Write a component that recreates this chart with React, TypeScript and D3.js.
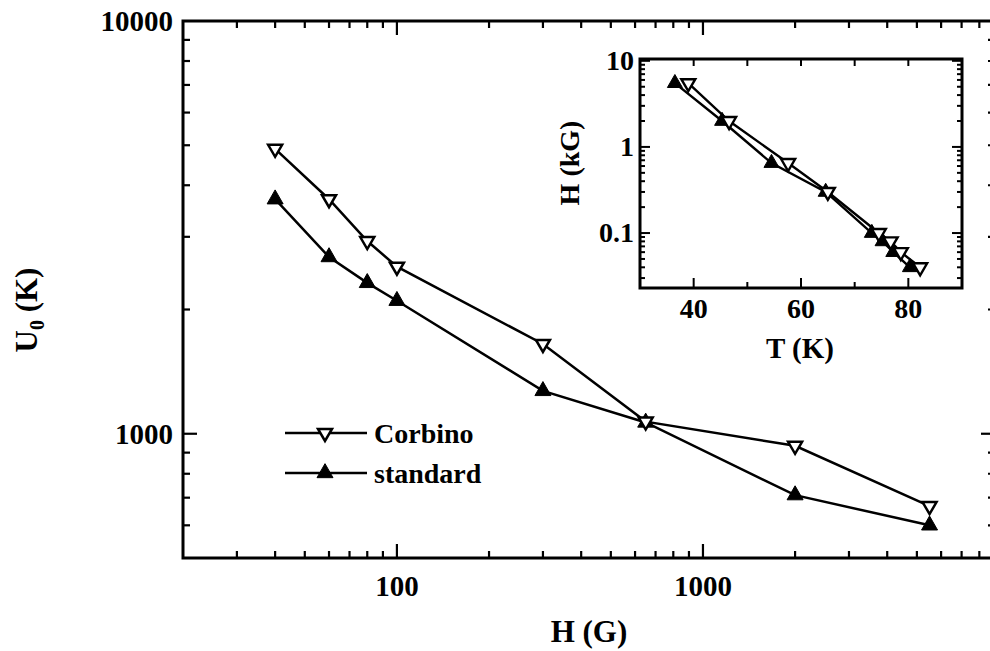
import React from 'react';
import * as d3 from 'd3';

// Activation energy U0 versus field H, for two contact geometries
const fieldG = [40, 60, 80, 100, 300, 650, 2000, 5500];
const corbinoU0 = [4900, 3700, 2930, 2540, 1650, 1070, 935, 668];
const standardU0 = [3700, 2680, 2320, 2100, 1270, 1065, 710, 600];

// Inset: field (kG) against the temperature T (K) of each point, high field first
const insetFieldKG = [5.5, 2, 0.65, 0.3, 0.1, 0.08, 0.06, 0.04];
const corbinoT = [39, 46.6, 57.6, 65, 74.5, 76.7, 78.6, 82.2];
const standardT = [36.5, 45.3, 54.5, 64.6, 73.2, 75.2, 77.2, 80.3];

const mainXTickLabels = [100, 1000];
const mainYTickLabels = [1000, 10000];
const insetXTickLabels = [40, 60, 80];
const insetYTickLabels = [0.1, 1, 10];

const seriesNames = ['Corbino', 'standard'];

const FONT = "'Liberation Serif', 'Times New Roman', serif";

const downTri = (cx: number, cy: number, w: number, h: number) =>
  `M${cx - w / 2},${cy - h / 3}L${cx + w / 2},${cy - h / 3}L${cx},${cy + (2 * h) / 3}Z`;
const upTri = (cx: number, cy: number, w: number, h: number) =>
  `M${cx - w / 2},${cy + h / 3}L${cx + w / 2},${cy + h / 3}L${cx},${cy - (2 * h) / 3}Z`;

const isDecade = (v: number) => Math.abs(Math.log10(v) - Math.round(Math.log10(v))) < 1e-6;

export default function App() {
  // main panel
  const x = d3.scaleLog().domain([20, 9000]).range([183, 995]);
  const y = d3.scaleLog().domain([500, 10000]).range([558, 21]);
  const [x0, x1] = x.range();
  const [y0, y1] = y.range();

  const mainLine = d3
    .line<[number, number]>()
    .x((d) => x(d[0]))
    .y((d) => y(d[1]));
  const corbinoPts: [number, number][] = fieldG.map((h, i) => [h, corbinoU0[i]]);
  const standardPts: [number, number][] = fieldG.map((h, i) => [h, standardU0[i]]);

  const xTicks = x.ticks().filter((v) => x(v) > x0 + 1 && x(v) < x1 - 1);
  const yTicks = y.ticks().filter((v) => y(v) < y0 - 1 && y(v) > y1 + 1);

  // inset panel
  const ix = d3.scaleLinear().domain([30, 90]).range([640, 962]);
  const iy = d3.scaleLog().domain([0.023, 10.5]).range([288, 59]);
  const [ix0, ix1] = ix.range();
  const [iy0, iy1] = iy.range();
  const insetLine = d3
    .line<[number, number]>()
    .x((d) => ix(d[0]))
    .y((d) => iy(d[1]));
  const insetCorbino: [number, number][] = corbinoT.map((t, i) => [t, insetFieldKG[i]]);
  const insetStandard: [number, number][] = standardT.map((t, i) => [t, insetFieldKG[i]]);
  const ixTicks = d3.range(40, 90, 10);
  const iyTicks = iy.ticks().filter((v) => iy(v) < iy0 - 1 && iy(v) > iy1 + 1);

  return (
    <svg
      width={990}
      height={651}
      style={{ position: 'absolute', left: 0, top: 0, background: '#fff' }}
      fontFamily={FONT}
      fontWeight="bold"
    >
      <rect x={0} y={0} width={990} height={651} fill="#fff" />

      {/* main axes ticks */}
      <g stroke="#000" strokeWidth={2.2}>
        {xTicks.map((v) => {
          const len = isDecade(v) ? 14 : 7;
          return (
            <g key={`xt${v}`}>
              <line x1={x(v)} x2={x(v)} y1={y0} y2={y0 - len} />
              <line x1={x(v)} x2={x(v)} y1={y1} y2={y1 + len} />
            </g>
          );
        })}
        {yTicks.map((v) => {
          const len = isDecade(v) ? 14 : 7;
          return (
            <g key={`yt${v}`}>
              <line x1={x0} x2={x0 + len} y1={y(v)} y2={y(v)} />
              <line x1={x1} x2={x1 - len} y1={y(v)} y2={y(v)} />
            </g>
          );
        })}
      </g>
      <rect x={x0} y={y1} width={x1 - x0} height={y0 - y1} fill="none" stroke="#000" strokeWidth={3} />

      {/* main tick labels */}
      <g fontSize={29} fill="#000">
        {mainXTickLabels.map((v) => (
          <text key={`xl${v}`} x={x(v)} y={y0 + 38} textAnchor="middle">
            {v}
          </text>
        ))}
        {mainYTickLabels.map((v) => (
          <text key={`yl${v}`} x={x0 - 10} y={y(v) + 10} textAnchor="end">
            {v}
          </text>
        ))}
      </g>

      {/* axis titles */}
      <text x={589} y={642} fontSize={31} textAnchor="middle">
        H (G)
      </text>
      <text transform="translate(37,310) rotate(-90)" fontSize={31} textAnchor="middle">
        U<tspan fontSize={20} dy={7}>0</tspan>
        <tspan dy={-7}> (K)</tspan>
      </text>

      {/* data */}
      <path d={mainLine(corbinoPts) || ''} fill="none" stroke="#000" strokeWidth={2.5} />
      <path d={mainLine(standardPts) || ''} fill="none" stroke="#000" strokeWidth={2.5} />
      {standardPts.map((d, i) => (
        <path key={`sp${i}`} d={upTri(x(d[0]), y(d[1]), 16, 14)} fill="#000" stroke="#000" strokeWidth={1} />
      ))}
      {corbinoPts.map((d, i) => (
        <path key={`cp${i}`} d={downTri(x(d[0]), y(d[1]), 14, 12)} fill="#fff" stroke="#000" strokeWidth={2.5} />
      ))}

      {/* legend */}
      <g>
        {seriesNames.map((name, i) => {
          const ly = 433 + i * 40;
          return (
            <g key={name}>
              <line x1={285} x2={367} y1={ly} y2={ly} stroke="#000" strokeWidth={2.5} />
              {i === 0 ? (
                <path d={downTri(325, ly, 14, 12)} fill="#fff" stroke="#000" strokeWidth={2.5} />
              ) : (
                <path d={upTri(325, ly, 16, 14)} fill="#000" stroke="#000" strokeWidth={1} />
              )}
              <text x={374} y={ly + 10} fontSize={28} fill="#000">
                {name}
              </text>
            </g>
          );
        })}
      </g>

      {/* inset */}
      <rect x={ix0} y={iy1} width={ix1 - ix0} height={iy0 - iy1} fill="#fff" />
      <g stroke="#000" strokeWidth={2}>
        {ixTicks.map((v) => {
          const len = v % 20 === 0 ? 10 : 6;
          return (
            <g key={`ixt${v}`}>
              <line x1={ix(v)} x2={ix(v)} y1={iy0} y2={iy0 - len} />
              <line x1={ix(v)} x2={ix(v)} y1={iy1} y2={iy1 + 7} />
            </g>
          );
        })}
        {iyTicks.map((v) => {
          const len = isDecade(v) ? 10 : 5;
          return (
            <g key={`iyt${v}`}>
              <line x1={ix0} x2={ix0 + len} y1={iy(v)} y2={iy(v)} />
              <line x1={ix1} x2={ix1 - len} y1={iy(v)} y2={iy(v)} />
            </g>
          );
        })}
      </g>
      <rect x={ix0} y={iy1} width={ix1 - ix0} height={iy0 - iy1} fill="none" stroke="#000" strokeWidth={3} />
      <path d={insetLine(insetStandard) || ''} fill="none" stroke="#000" strokeWidth={2.4} />
      <path d={insetLine(insetCorbino) || ''} fill="none" stroke="#000" strokeWidth={2.4} />
      {insetStandard.map((d, i) => (
        <path key={`isp${i}`} d={upTri(ix(d[0]), iy(d[1]), 15, 13)} fill="#000" stroke="#000" strokeWidth={1} />
      ))}
      {insetCorbino.map((d, i) => (
        <path key={`icp${i}`} d={downTri(ix(d[0]), iy(d[1]), 14, 12)} fill="#fff" stroke="#000" strokeWidth={2.4} />
      ))}
      <g fontSize={28} fill="#000">
        {insetXTickLabels.map((v) => (
          <text key={`ixl${v}`} x={ix(v)} y={iy0 + 30} textAnchor="middle">
            {v}
          </text>
        ))}
        {insetYTickLabels.map((v) => (
          <text key={`iyl${v}`} x={ix0 - 6} y={iy(v) + 9} textAnchor="end">
            {v}
          </text>
        ))}
      </g>
      <text x={800} y={358} fontSize={29} textAnchor="middle">
        T (K)
      </text>
      <text transform="translate(579,163) rotate(-90)" fontSize={28} textAnchor="middle">
        H (kG)
      </text>
    </svg>
  );
}
